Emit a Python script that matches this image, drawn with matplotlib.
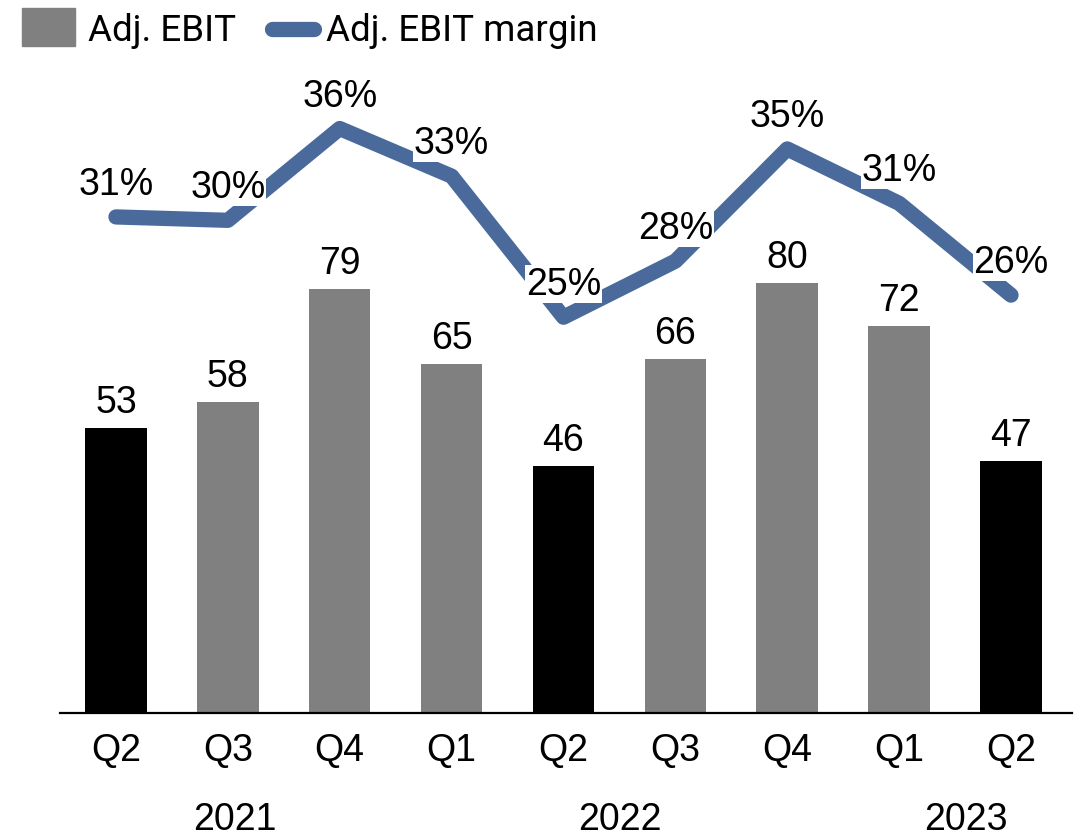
import numpy as np
import matplotlib.pyplot as plt
from matplotlib.patches import Rectangle
from matplotlib.lines import Line2D
from matplotlib.transforms import blended_transform_factory

plt.rcParams['font.family'] = ['Liberation Sans', 'DejaVu Sans']

# quarterly adjusted EBIT and margin
quarters = ['Q2', 'Q3', 'Q4', 'Q1', 'Q2', 'Q3', 'Q4', 'Q1', 'Q2']
years = ['2021', '2022', '2023']
year_pos = [1.06, 4.5, 7.6]
ebit = [53, 58, 79, 65, 46, 66, 80, 72, 47]
margin = [30.6, 30.4, 35.8, 33.0, 24.7, 28.0, 34.6, 31.4, 26.0]
highlight = [True, False, False, False, True, False, False, False, True]

GREY = '#808080'
BLUE = '#4a6a9b'

W, H = 1079, 837
fig = plt.figure(figsize=(W / 100, H / 100), dpi=100)
ax = fig.add_axes([60 / W, (H - 714) / H, 1012 / W, (714 - 60) / H])

x = np.arange(len(quarters))
colors = ['black' if h else GREY for h in highlight]
bars = ax.bar(x, ebit, width=0.55, color=colors, zorder=2)
for xi, v in zip(x, ebit):
    ax.annotate(str(v), (xi, v), xytext=(0, 8), textcoords='offset pixels',
                ha='center', va='bottom', fontsize=27)

ax.set_xlim(-0.5, 8.545)
ax.set_ylim(0, 121.8)
for s in ['top', 'right', 'left']:
    ax.spines[s].set_visible(False)
ax.spines['bottom'].set_linewidth(1.6)
ax.set_yticks([])
ax.set_xticks(x)
ax.set_xticklabels(quarters, fontsize=27)
ax.tick_params(axis='x', length=0, pad=14)

tr = blended_transform_factory(ax.transData, fig.transFigure)
for yr, xp in zip(years, year_pos):
    ax.text(xp, (H - 820) / H, yr, transform=tr, ha='center', va='center',
            fontsize=27)

# margin on its own scale
ax2 = ax.twinx()
ax2.set_ylim(1.42, 39.89)
ax2.axis('off')
ax2.plot(x, margin, color=BLUE, lw=11, solid_capstyle='round',
         solid_joinstyle='round', zorder=2)
for xi, m in zip(x, margin):
    ax2.annotate('{:.0f}%'.format(m), (xi, m), xytext=(0, 33),
                 textcoords='offset pixels', ha='center', va='center',
                 fontsize=27, zorder=5,
                 bbox=dict(boxstyle='square,pad=0.02', fc='white', ec='none'))

# legend
fig.patches.append(Rectangle((22 / W, (H - 47) / H), 53 / W, 38 / H,
                             transform=fig.transFigure, color=GREY))
fig.text(88 / W, (H - 31) / H, 'Adj. EBIT', fontsize=26.5, family='Roboto',
         va='center')
fig.lines.append(Line2D([272 / W, 314 / W], [(H - 30) / H] * 2,
                        transform=fig.transFigure, color=BLUE, lw=11,
                        solid_capstyle='round'))
fig.text(326 / W, (H - 31) / H, 'Adj. EBIT margin', fontsize=26.5,
         family='Roboto', va='center')

fig.savefig('out.png', dpi=100)
